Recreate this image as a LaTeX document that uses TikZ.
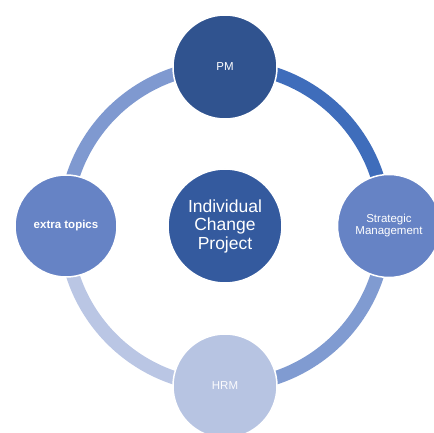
\documentclass[tikz,border=0pt]{standalone}
\usepackage{fontspec}
\setmainfont{Liberation Sans}
\definecolor{cPM}{RGB}{48,83,143}
\definecolor{cCenter}{RGB}{52,90,158}
\definecolor{cMid}{RGB}{102,131,197}
\definecolor{cHRM}{RGB}{183,196,226}
\definecolor{aTR}{RGB}{63,109,187}
\definecolor{aTL}{RGB}{127,153,208}
\definecolor{aBR}{RGB}{128,155,209}
\definecolor{aBL}{RGB}{186,198,228}
\begin{document}
\begin{tikzpicture}[x=1pt,y=1pt,
  bubble/.style={circle, draw=white, line width=1.5pt, text=white, align=center, inner sep=0pt,
    font=\fontsize{11.5}{12}\selectfont},
  ring/.style={line width=13.5pt}]
\useasboundingbox (0,0) rectangle (434,433);
\coordinate (O) at (225,207);
% ring arcs
\coordinate (pmc) at (225,367);
\coordinate (smc) at (385,207);
\coordinate (hrc) at (225,47);
\coordinate (etc) at (65,207);
\draw[ring, aTR] (pmc) arc[start angle=90, end angle=0, radius=160];
\draw[ring, aBR] (smc) arc[start angle=0, end angle=-90, radius=160];
\draw[ring, aBL] (hrc) arc[start angle=270, end angle=180, radius=160];
\draw[ring, aTL] (etc) arc[start angle=180, end angle=90, radius=160];
% nodes
\node[bubble, fill=cPM, minimum size=104pt] (pm) at (225,366) {PM};
\node[bubble, fill=cMid, minimum size=103pt] (sm) at (389,207) {Strategic\\Management};
\node[bubble, fill=cHRM, minimum size=104pt, text=white!94!cHRM] (hrm) at (225,47) {HRM};
\node[bubble, fill=cMid, minimum size=102pt, font=\fontsize{11.5}{12}\selectfont\bfseries] (et) at (66,207) {extra topics};
\node[bubble, fill=cCenter, minimum size=114pt, font=\fontsize{17.5}{18.5}\selectfont] (c) at (O) {Individual\\Change\\Project};
\end{tikzpicture}
\end{document}
